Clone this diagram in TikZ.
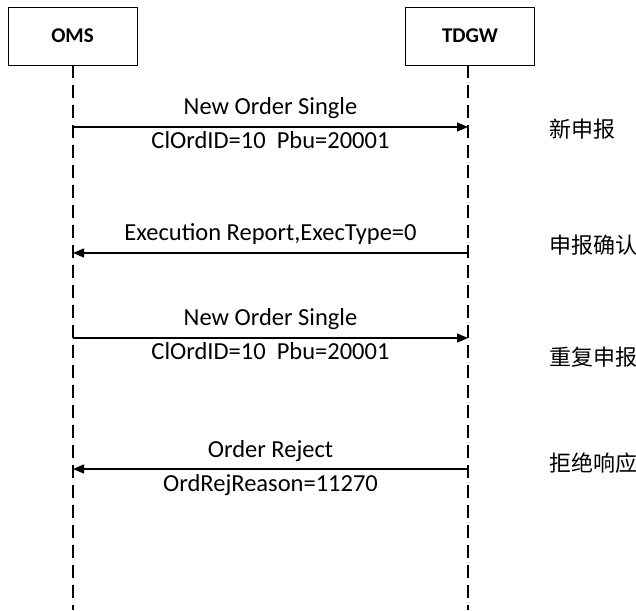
\documentclass[tikz,border=0pt]{standalone}
\usepackage{fontspec}
\setmainfont{Carlito}
\newfontfamily\cjk{Noto Sans CJK SC}
\usetikzlibrary{arrows.meta}
\tikzset{
	party/.style={draw,line width=0.8pt,minimum width=129pt,minimum height=58pt,font=\fontsize{21}{24}\selectfont\bfseries},
	lifeline/.style={line width=2.6pt,dash pattern=on 13pt off 7pt},
	msg/.style={line width=1.2pt,-{Triangle[length=11pt,width=9pt]}},
	lbl/.style={font=\fontsize{24.5}{28}\selectfont,inner sep=0pt,anchor=base},
	note/.style={font=\fontsize{22}{26}\selectfont\cjk,anchor=west,inner sep=0pt}
}
\begin{document}
\begin{tikzpicture}[x=1pt,y=-1pt]
	\useasboundingbox (0,0) rectangle (636,610);
	\node[party] (oms) at (72.5,36) {OMS};
	\node[party] (tdgw) at (470,36) {TDGW};
	\coordinate (omsend) at (73,610);
	\coordinate (tdgwend) at (468,610);
	\draw[lifeline] (oms.south -| omsend) -- (omsend);
	\draw[lifeline] (tdgw.south -| tdgwend) -- (tdgwend);
	% messages
	\coordinate (o1) at (73,127);  \coordinate (t1) at (468,127);
	\coordinate (o2) at (73,253);  \coordinate (t2) at (468,253);
	\coordinate (o3) at (73,338);  \coordinate (t3) at (468,338);
	\coordinate (o4) at (73,469);  \coordinate (t4) at (468,469);
	\draw[msg] (o1) -- node[lbl,yshift=13pt] (m1a) {New Order Single} node[lbl,yshift=-21pt] (m1b) {ClOrdID=10\ \ Pbu=20001} (t1);
	\draw[msg] (t2) -- node[lbl,yshift=13pt] (m2a) {Execution Report,ExecType=0} (o2);
	\draw[msg] (o3) -- node[lbl,yshift=13pt] (m3a) {New Order Single} node[lbl,yshift=-21pt] (m3b) {ClOrdID=10\ \ Pbu=20001} (t3);
	\draw[msg] (t4) -- node[lbl,yshift=12pt] (m4a) {Order Reject} node[lbl,yshift=-22pt] (m4b) {OrdRejReason=11270} (o4);
	% notes
	\node[note] (n1) at (549,129) {新申报};
	\node[note] (n2) at (549,245) {申报确认};
	\node[note] (n3) at (549,357) {重复申报};
	\node[note] (n4) at (549,463) {拒绝响应};
\end{tikzpicture}
\end{document}
